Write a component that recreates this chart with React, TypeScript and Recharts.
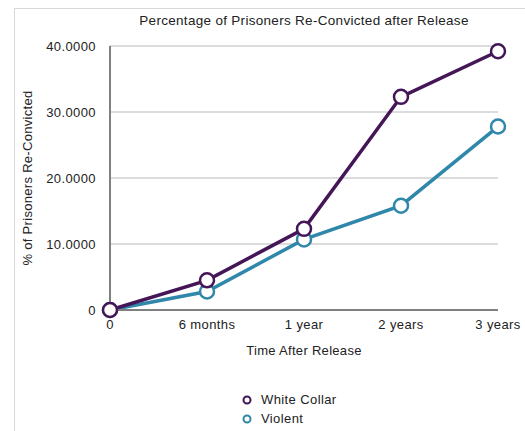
import React from 'react';
import { LineChart, Line, XAxis, YAxis, CartesianGrid, Legend, Label } from 'recharts';

const periods = ['0', '6 months', '1 year', '2 years', '3 years'];
const whiteCollar = [0, 4.5, 12.3, 32.3, 39.2];
const violent = [0, 2.8, 10.7, 15.8, 27.8];
const yTicks = [0, 10, 20, 30, 40];

const PURPLE = '#441657';
const BLUE = '#2f87aa';
const FONT = '"Liberation Sans", Arial, Helvetica, sans-serif';

const data = periods.map((p, i) => ({ time: p, whiteCollar: whiteCollar[i], violent: violent[i] }));

const legendItems = [
  { name: 'White Collar', color: PURPLE },
  { name: 'Violent', color: BLUE },
];

const renderLegend = () => (
  <div style={{ fontFamily: FONT, fontSize: 13, letterSpacing: 0.4, color: '#222' }}>
    {legendItems.map((it) => (
      <div key={it.name} style={{ display: 'flex', alignItems: 'center', height: 19 }}>
        <svg width={12} height={12} style={{ marginRight: 8 }}>
          <circle cx={6} cy={6} r={3.5} fill="#fff" stroke={it.color} strokeWidth={2} />
        </svg>
        <span>{it.name}</span>
      </div>
    ))}
  </div>
);

const fmt = (v: number) => (v === 0 ? '0' : v.toFixed(4));

export default function App() {
  const tickStyle = { fill: '#222', fontSize: 13, fontFamily: FONT, letterSpacing: 0.4 };
  return (
    <div style={{ position: 'absolute', left: 0, top: 0, width: 525, height: 431, background: '#fff', overflow: 'hidden' }}>
      <div style={{ position: 'absolute', left: 14, top: 8, width: 600, height: 500, borderLeft: '1px solid #d8d8d8', borderTop: '1px solid #d8d8d8' }} />
      <div style={{ position: 'absolute', left: 110, width: 388, top: 13, textAlign: 'center', fontFamily: FONT, fontSize: 13.5, letterSpacing: 0.3, color: '#222' }}>
        Percentage of Prisoners Re-Convicted after Release
      </div>
      <LineChart width={525} height={431} data={data} margin={{ top: 46, right: 27, bottom: 91, left: 0 }} style={{ position: 'absolute', left: 0, top: 0 }}>
        <CartesianGrid vertical={false} stroke="#d0d0d0" strokeWidth={1.5} />
        <XAxis
          dataKey="time"
          stroke="#808080"
          strokeWidth={2}
          tickLine={false}
          tick={tickStyle}
          tickMargin={4}
        >
          <Label value="Time After Release" position="bottom" offset={6} style={{ fill: '#222', fontSize: 13, fontFamily: FONT, letterSpacing: 0.3 }} />
        </XAxis>
        <YAxis
          width={110}
          domain={[0, 40]}
          ticks={yTicks}
          tickFormatter={fmt}
          stroke="#808080"
          strokeWidth={2}
          tickLine={false}
          tick={tickStyle}
          tickMargin={8}
        >
          <Label value="% of Prisoners Re-Convicted" angle={-90} position="insideLeft" offset={27} style={{ textAnchor: 'middle', fill: '#222', fontSize: 13, fontFamily: FONT, letterSpacing: 0.3 }} />
        </YAxis>
        <Legend
          layout="vertical"
          align="center"
          verticalAlign="middle"
          content={renderLegend}
          wrapperStyle={{ top: 390, left: 241, width: 150, height: 40 }}
        />
        <Line
          dataKey="violent"
          name="Violent"
          stroke={BLUE}
          strokeWidth={3.5}
          dot={{ r: 7, fill: '#fff', stroke: BLUE, strokeWidth: 2.5 }}
          isAnimationActive={false}
        />
        <Line
          dataKey="whiteCollar"
          name="White Collar"
          stroke={PURPLE}
          strokeWidth={3.5}
          dot={{ r: 7, fill: '#fff', stroke: PURPLE, strokeWidth: 2.5 }}
          isAnimationActive={false}
        />
      </LineChart>
    </div>
  );
}
